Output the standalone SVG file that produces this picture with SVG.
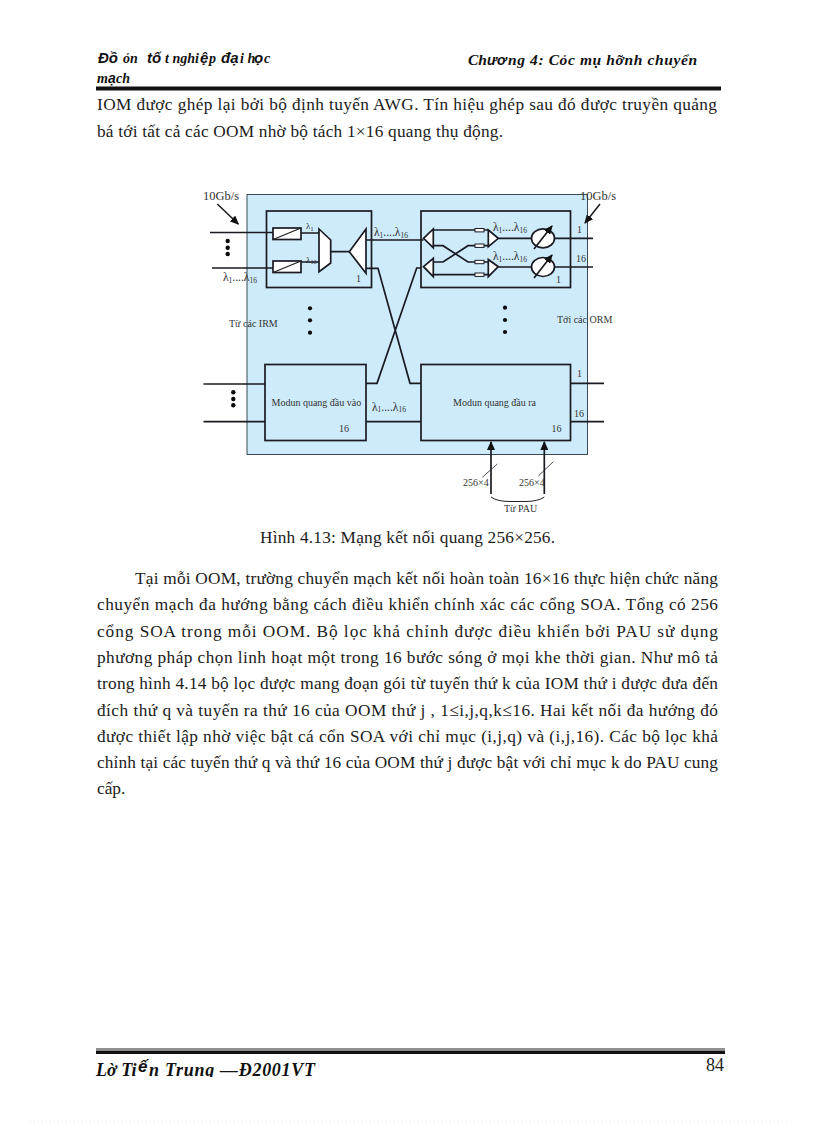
<svg xmlns="http://www.w3.org/2000/svg" width="816" height="1123" viewBox="0 0 816 1123">
<style>
text{font-family:"Liberation Serif","Times New Roman",serif;fill:#222}
.b{font-size:17.3px;fill:#1c1c1c}
.h{font-weight:bold;font-style:italic;font-size:15.5px;fill:#111}
.hs{font-weight:bold;font-style:italic;font-size:14px;fill:#111}
.s{font-family:"Liberation Sans",Arial,sans-serif}
.d{font-size:10px;fill:#333}
.n{font-size:11.5px;fill:#333}
.l{font-size:12.5px;fill:#333}
.sub{font-size:7.5px}
.box{fill:none;stroke:#1a1a22;stroke-width:1.7}
.w{fill:none;stroke:#1a1a22;stroke-width:1.7;stroke-linejoin:miter}
.wf{fill:#fff;stroke:#1a1a22;stroke-width:1.7}
.t{fill:none;stroke:#222;stroke-width:.8}
</style>
<defs>
<marker id="ah" markerWidth="9" markerHeight="8" refX="8" refY="4" orient="auto" markerUnits="userSpaceOnUse"><path d="M0 0L9 4L0 8z" fill="#111"/></marker>
<clipPath id="footclip"><rect x="90" y="1050" width="240" height="27"/></clipPath>
</defs>
<rect width="816" height="1123" fill="#fff"/>
<g id="page-header">
<text class="h" x="98" y="63"><tspan class="s" font-size="15">Đồ</tspan></text>
<text class="hs" x="123" y="63">ỏn</text>
<text class="h" x="147" y="63"><tspan class="s" font-size="15">tố</tspan></text>
<text class="hs" x="165" y="63">t nghi</text>
<text class="h" x="200" y="63"><tspan class="s" font-size="15">ệ</tspan></text>
<text class="hs" x="209" y="63">p</text>
<text class="h" x="221" y="63"><tspan class="s" font-size="15">đạ</tspan></text>
<text class="hs" x="240" y="63">i h</text>
<text class="h" x="254" y="63"><tspan class="s" font-size="15">ọ</tspan></text>
<text class="hs" x="264" y="63">c</text>
<text class="hs" x="97" y="83">m</text>
<text class="h" x="108" y="83"><tspan class="s" font-size="14">ạ</tspan></text>
<text class="hs" x="116" y="83">ch</text>
<text class="h" x="468" y="65">Ch</text>
<text class="h" x="487" y="65"><tspan class="s" font-size="14">ươ</tspan></text>
<text class="h" x="508" y="65" textLength="189">ng 4: Cỏc mụ hỡnh chuyển</text>
<rect x="96" y="86.5" width="625" height="4" fill="#111"/>
</g>
<g id="body-top">
<text class="b" x="97" y="110" textLength="620">IOM được ghép lại bởi bộ định tuyến AWG. Tín hiệu ghép sau đó được truyền quảng</text>
<text class="b" x="97" y="137" textLength="406">bá tới tất cả các OOM nhờ bộ tách 1×16 quang thụ động.</text>
</g>
<g id="panel"><rect x="247" y="194.5" width="340.5" height="260" fill="#cdebfb" stroke="#3a4a55" stroke-width="1"/></g>
<g id="module-in-1">
<rect class="box" x="266.5" y="211" width="105" height="76.5"/>
<rect class="wf" x="273" y="228" width="28" height="11.5"/><path class="t" style="stroke-width:1.3" d="M273 239.5L301 228"/>
<rect class="wf" x="273" y="261" width="28" height="11.5"/><path class="t" style="stroke-width:1.3" d="M273 272.5L301 261"/>
<path class="wf" d="M319 229L330.7 240V263L319 271.7z"/>
<path class="wf" d="M366 229L349.3 251.7L366 273.3z"/>
<text class="n" x="306" y="229" style="font-size:9px">λ<tspan class="sub" dy="1.5" style="font-size:6px">1</tspan></text>
<text class="n" x="306" y="262.7" style="font-size:9px">λ<tspan class="sub" dy="1.5" style="font-size:6px">16</tspan></text>
<text class="d" x="356" y="282">1</text>
</g>
<g id="module-out-1">
<rect class="box" x="421" y="211" width="149.5" height="76.5"/>
<path class="wf" d="M423.5 238.3L433.3 229V247.7z"/>
<path class="wf" d="M423.5 266.7L433.3 258.3V276.7z"/>
<path class="wf" d="M488.3 230L498.3 238.3L488.3 246.7z"/>
<path class="wf" d="M488.3 259.5L498.3 266.7L488.3 276.7z"/>
<rect class="wf" style="stroke-width:1" x="475" y="228.5" width="9" height="3.4"/>
<rect class="wf" style="stroke-width:1" x="475" y="244" width="9" height="3.4"/>
<rect class="wf" style="stroke-width:1" x="475" y="260.3" width="9" height="3.4"/>
<rect class="wf" style="stroke-width:1" x="475" y="273" width="9" height="3.4"/>
<ellipse class="wf" cx="543" cy="238.3" rx="11.5" ry="9.5"/>
<ellipse class="wf" cx="543" cy="267" rx="11.5" ry="9.5"/>
<path class="w" marker-end="url(#ah)" d="M534 249L552 226"/>
<path class="w" marker-end="url(#ah)" d="M534 278L552 255"/>
<text class="n" x="493" y="231">λ<tspan class="sub" dy="1.5">1</tspan><tspan dy="-1.5">....λ</tspan><tspan class="sub" dy="1.5">16</tspan></text>
<text class="n" x="493" y="260">λ<tspan class="sub" dy="1.5">1</tspan><tspan dy="-1.5">....λ</tspan><tspan class="sub" dy="1.5">16</tspan></text>
<text class="d" x="556" y="283">1</text>
</g>
<g id="module-in-16">
<rect class="box" x="265" y="364.5" width="101" height="76"/>
<text class="d" x="271.5" y="406">Modun quang đầu vào</text>
<text class="d" x="339" y="432">16</text>
</g>
<g id="module-out-16">
<rect class="box" x="421" y="364.5" width="149.5" height="76"/>
<text class="d" x="453" y="406">Modun quang đầu ra</text>
<text class="d" x="551.5" y="432">16</text>
</g>
<g id="connectors">
<path class="w" d="M210 232.5H273M212 268H273M301 233H319M301 262H319M331 251.7H349.3"/>
<path class="w" d="M366 240H423.5M366 268.3H378L410 383.3H421M421 268H416.7L377 383.3H366M366 421.7H421"/>
<path class="w" d="M433.3 230H475M484 230H488.3M433.3 245.7H443L468 262H475M484 262H488.3M433.3 262H443L468 245.7H475M484 245.7H488.3M433.3 274.7H475M484 274.7H488.3"/>
<path class="w" d="M498.3 238.3H531.5M498.3 267H531.5M554.5 238.3H593M554.5 267H593"/>
<path class="w" d="M203.5 384H265M203.5 421.7H265M570.5 383.3H604M570.5 421.7H604"/>
<path class="w" marker-end="url(#ah)" d="M491 494V442"/>
<path class="w" marker-end="url(#ah)" d="M544.3 494V442"/>
<path class="t" d="M482.3 477.3L497.3 464M538.3 476L553.3 461.7"/>
<path class="t" style="stroke-width:1" d="M491 497Q497 501.5 510 501.5H525Q538 501.5 544.3 497"/>
<path class="w" style="stroke-width:1.5" marker-end="url(#ah)" d="M217.3 204L238.3 224"/>
<path class="w" style="stroke-width:1.5" marker-end="url(#ah)" d="M600 204L585 223"/>
</g>
<g id="dots" fill="#0a0a0a">
<circle cx="227.7" cy="241" r="2.2"/><circle cx="227.7" cy="247.7" r="2.2"/><circle cx="227.7" cy="254" r="2.2"/>
<circle cx="310" cy="308.3" r="2.1"/><circle cx="310" cy="320.3" r="2.1"/><circle cx="310" cy="332.7" r="2.1"/>
<circle cx="505" cy="307.7" r="2.1"/><circle cx="505" cy="320" r="2.1"/><circle cx="505" cy="332" r="2.1"/>
<circle cx="233.3" cy="392.3" r="2.2"/><circle cx="233.3" cy="399" r="2.2"/><circle cx="233.3" cy="405.3" r="2.2"/>
</g>
<g id="labels">
<text class="l" x="203" y="200">10Gb/s</text>
<text class="l" x="580" y="200">10Gb/s</text>
<text class="d" x="229" y="326.7">Từ các IRM</text>
<text class="d" x="557" y="322.7">Tới các ORM</text>
<text class="n" x="223" y="281">λ<tspan class="sub" dy="1.5">1</tspan><tspan dy="-1.5">....λ</tspan><tspan class="sub" dy="1.5">16</tspan></text>
<text class="n" x="374" y="236">λ<tspan class="sub" dy="1.5">1</tspan><tspan dy="-1.5">....λ</tspan><tspan class="sub" dy="1.5">16</tspan></text>
<text class="n" x="372" y="410.7">λ<tspan class="sub" dy="1.5">1</tspan><tspan dy="-1.5">....λ</tspan><tspan class="sub" dy="1.5">16</tspan></text>
<text class="d" x="577" y="233">1</text>
<text class="d" x="576" y="262">16</text>
<text class="d" x="577" y="377">1</text>
<text class="d" x="574" y="417">16</text>
<text class="d" x="463" y="485.7">256×4</text>
<text class="d" x="519" y="486">256×4</text>
<text class="d" x="504" y="512">Từ PAU</text>
</g>
<g id="body-bottom">
<text class="b" x="260" y="543" textLength="295">Hình 4.13: Mạng kết nối quang 256×256.</text>
<text class="b" x="135" y="584" textLength="583">Tại mỗi OOM, trường chuyển mạch kết nối hoàn toàn 16×16 thực hiện chức năng</text>
<text class="b" x="97" y="610" textLength="621">chuyển mạch đa hướng bằng cách điều khiển chính xác các cổng SOA. Tổng có 256</text>
<text class="b" x="97" y="637" textLength="621">cổng SOA trong mỗi OOM. Bộ lọc khả chỉnh được điều khiển bởi PAU sử dụng</text>
<text class="b" x="97" y="663" textLength="621">phương pháp chọn linh hoạt một trong 16 bước sóng ở mọi khe thời gian. Như mô tả</text>
<text class="b" x="97" y="689" textLength="621">trong hình 4.14 bộ lọc được mang đoạn gói từ tuyến thứ k của IOM thứ i được đưa đến</text>
<text class="b" x="97" y="716" textLength="621">đích thứ q và tuyến ra thứ 16 của OOM thứ j , 1≤i,j,q,k≤16.  Hai kết nối đa hướng đó</text>
<text class="b" x="97" y="742" textLength="621">được thiết lập nhờ việc bật cá cổn SOA với chỉ mục (i,j,q) và (i,j,16). Các bộ lọc khả</text>
<text class="b" x="97" y="768" textLength="621">chỉnh tại các tuyến thứ q và thứ 16 của OOM thứ j được bật với chỉ mục k do PAU cung</text>
<text class="b" x="97" y="794">cấp.</text>
</g>
<g id="page-footer">
<rect x="96" y="1048.5" width="629" height="1" fill="#222"/>
<rect x="96" y="1050.5" width="629" height="3.5" fill="#111"/>
<g clip-path="url(#footclip)">
<text class="h" x="96" y="1076" style="font-size:18px">Lờ Ti</text>
<text class="h" x="138" y="1072" style="font-family:'Liberation Sans',sans-serif;font-size:17px">ế</text>
<text class="h" x="149" y="1076" textLength="166" style="font-size:18px">n Trung  —Đ2001VT</text>
</g>
<text x="706" y="1071" style="font-size:18px;fill:#222">84</text>
<line x1="30" y1="1122" x2="790" y2="1122" stroke="#e8e0f4" stroke-dasharray="1 3"/>
</g>
</svg>
